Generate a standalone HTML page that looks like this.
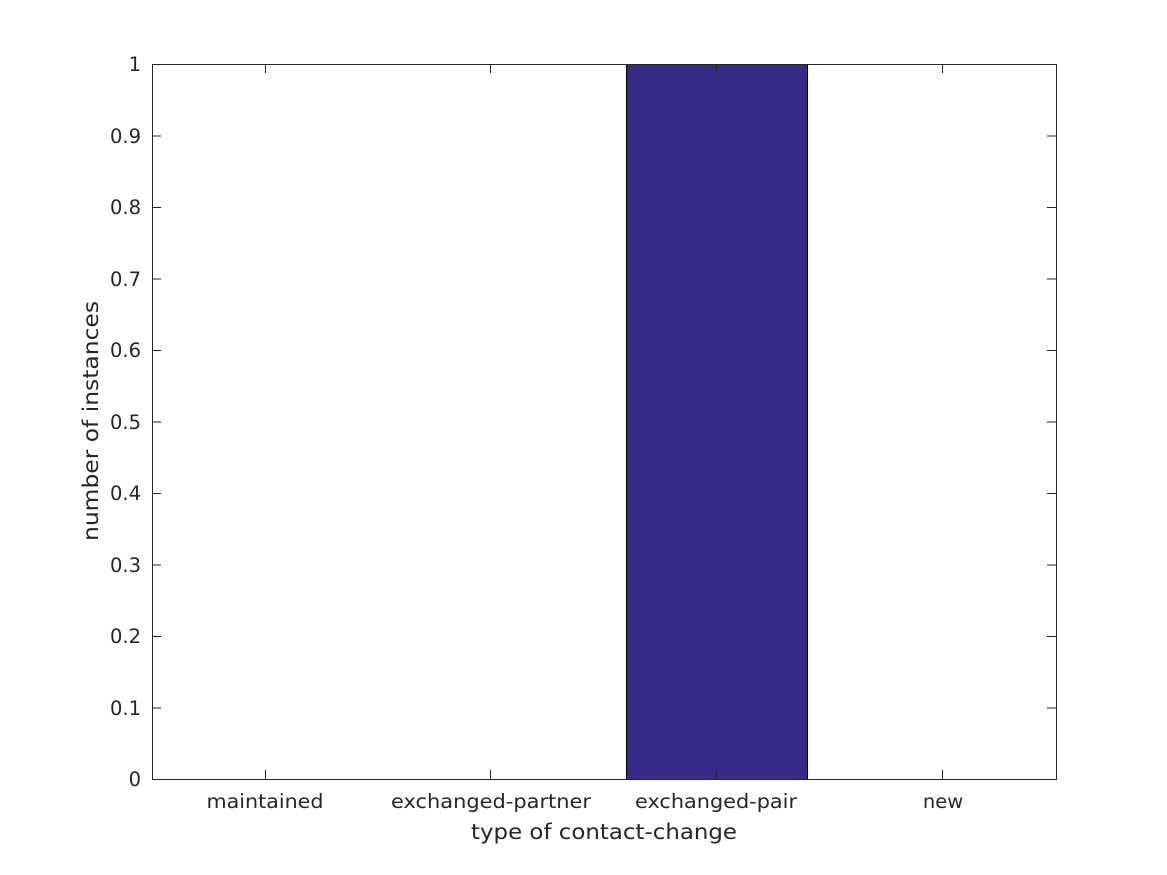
<!DOCTYPE html>
<html><head><style>body{margin:0;background:#fff}svg{display:block}text{font-family:"DejaVu Sans","Liberation Sans",sans-serif;fill:#262626}</style></head>
<body>
<svg width="1167" height="875" viewBox="0 0 1167 875" xmlns="http://www.w3.org/2000/svg">
<rect width="1167" height="875" fill="#fff"/>
<rect x="626.5" y="64.5" width="181" height="715" fill="#352a87" stroke="#000" stroke-width="1"/>
<g stroke="#262626" stroke-width="1" fill="none">
<rect x="152.5" y="64.5" width="904" height="715"/>
<path d="M265.5 779v-9M490.5 779v-9M716.5 779v-9M942.5 779v-9M265.5 64v9M490.5 64v9M716.5 64v9M942.5 64v9"/>
<path d="M152 64.5h9M152 136h9M152 207.5h9M152 279h9M152 350.5h9M152 422h9M152 493.5h9M152 565h9M152 636.5h9M152 708h9M1056 64.5h-9M1056 136h-9M1056 207.5h-9M1056 279h-9M1056 350.5h-9M1056 422h-9M1056 493.5h-9M1056 565h-9M1056 636.5h-9M1056 708h-9"/>
</g>
<g font-size="19.5" text-anchor="end">
<text x="141" y="786">0</text><text x="141" y="715">0.1</text><text x="141" y="643">0.2</text><text x="141" y="572">0.3</text><text x="141" y="500">0.4</text><text x="141" y="429">0.5</text><text x="141" y="357">0.6</text><text x="141" y="286">0.7</text><text x="141" y="214">0.8</text><text x="141" y="143">0.9</text><text x="141" y="71">1</text>
</g>
<g font-size="19.5" text-anchor="middle">
<text x="265" y="808" textLength="117" lengthAdjust="spacingAndGlyphs">maintained</text>
<text x="491" y="808" textLength="200" lengthAdjust="spacingAndGlyphs">exchanged-partner</text>
<text x="716" y="808" textLength="162" lengthAdjust="spacingAndGlyphs">exchanged-pair</text>
<text x="943" y="808">new</text>
<text x="604" y="839" font-size="21.5" textLength="266" lengthAdjust="spacingAndGlyphs">type of contact-change</text>
<text transform="translate(98 421) rotate(-90)" font-size="21.5" textLength="240" lengthAdjust="spacingAndGlyphs">number of instances</text>
</g>
</svg>
</body></html>
